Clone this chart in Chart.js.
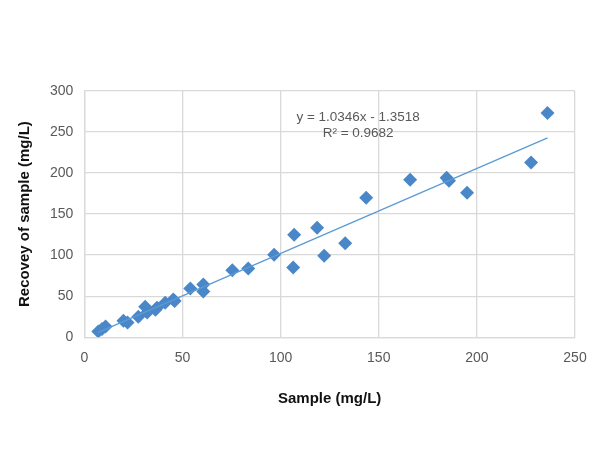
<!DOCTYPE html>
<html>
<head>
<meta charset="utf-8">
<script src="https://cdn.jsdelivr.net/npm/chart.js@4"></script>
<style>
  html, body { margin: 0; padding: 0; background: #fff; }
  #wrap { width: 600px; height: 450px; }
</style>
</head>
<body>
<div id="wrap"><canvas id="c"></canvas></div>
<script>
// values
const sampleX = [7.1, 9, 10.8, 19.9, 22, 27.5, 31, 32, 36.2, 37, 41.2, 45.3, 46, 54, 60.6, 60.6, 75.4, 83.5, 96.7, 106.9, 106.4, 118.6, 122.2, 132.9, 143.6, 166, 184.6, 185.8, 195, 227.6, 236];
const recoveryY = [7, 10, 13, 20, 18, 25, 37, 30, 33.5, 36, 42, 45.8, 44, 59.2, 64.1, 55.6, 81.5, 83.6, 100.6, 124.9, 84.8, 133.4, 99.4, 114.5, 169.9, 191.8, 194.3, 190.6, 176, 212.8, 273.3];
const trendSlope = 1.0346;
const trendIntercept = -1.3518;
const trendLabels = ['y = 1.0346x - 1.3518', 'R² = 0.9682'];
const xTicks = [0, 50, 100, 150, 200, 250];
const yTicks = [0, 50, 100, 150, 200, 250, 300];

const pts = sampleX.map((x, i) => ({ x, y: recoveryY[i] }));
const xMin = Math.min(...sampleX), xMax = Math.max(...sampleX);
const trend = [xMin, xMax].map(x => ({ x, y: trendSlope * x + trendIntercept }));

const grey = '#d9d9d9';
const txt = '#595959';

const eqLabel = {
  id: 'eqLabel',
  afterDatasetsDraw(chart) {
    const { ctx, scales: { x, y } } = chart;
    ctx.save();
    ctx.fillStyle = txt;
    ctx.font = '13.5px "Liberation Sans", Arial, sans-serif';
    ctx.textAlign = 'center';
    ctx.textBaseline = 'middle';
    ctx.fillText(trendLabels[0], x.getPixelForValue(139.5), y.getPixelForValue(268));
    ctx.fillText(trendLabels[1], x.getPixelForValue(139.5), y.getPixelForValue(248));
    ctx.restore();
  }
};

new Chart(document.getElementById('c'), {
  type: 'scatter',
  data: {
    datasets: [
      { data: pts, pointStyle: 'rectRot', pointRadius: 7, pointHoverRadius: 7, backgroundColor: '#4a87c8', borderColor: '#4a87c8', borderWidth: 0, order: 1 },
      { type: 'line', data: trend, borderColor: '#5b9bd5', borderWidth: 1.3, pointRadius: 0, fill: false, order: 0 }
    ]
  },
  options: {
    responsive: true,
    maintainAspectRatio: false,
    animation: false,
    layout: { padding: { top: 91, right: 25, bottom: 38, left: 12 } },
    plugins: { legend: { display: false }, tooltip: { enabled: false } },
    scales: {
      x: {
        type: 'linear', min: 0, max: 250,
        afterBuildTicks: s => { s.ticks = xTicks.map(v => ({ value: v })); },
        grid: { color: grey, lineWidth: 1.3, drawTicks: false },
        border: { color: grey, width: 1.3 },
        ticks: { color: txt, padding: 13, maxRotation: 0, font: { family: '"Liberation Sans", Arial, sans-serif', size: 14 } },
        title: { display: true, text: 'Sample (mg/L)', color: '#111', padding: { top: 10 }, font: { family: '"Liberation Sans", Arial, sans-serif', size: 15, weight: 'bold' } }
      },
      y: {
        type: 'linear', min: 0, max: 300,
        afterBuildTicks: s => { s.ticks = yTicks.map(v => ({ value: v })); },
        grid: { color: grey, lineWidth: 1.3, drawTicks: false },
        border: { color: grey, width: 1.3 },
        ticks: { color: txt, padding: 11, font: { family: '"Liberation Sans", Arial, sans-serif', size: 14 } },
        title: { display: true, text: 'Recovey of sample (mg/L)', color: '#111', padding: { bottom: 5 }, font: { family: '"Liberation Sans", Arial, sans-serif', size: 15, weight: 'bold' } }
      }
    }
  },
  plugins: [eqLabel]
});
</script>
</body>
</html>
